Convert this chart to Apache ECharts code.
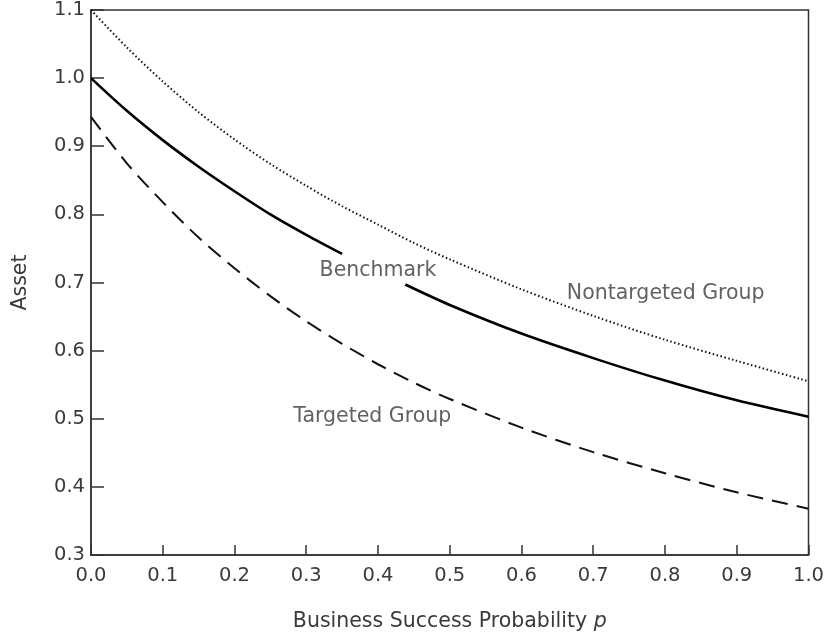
<!DOCTYPE html>
<html>
<head>
<meta charset="utf-8">
<script src="https://cdn.jsdelivr.net/npm/echarts@6/dist/echarts.min.js"></script>
<style>
html,body{margin:0;padding:0;background:#fff;}
#main{width:827px;height:637px;}
</style>
</head>
<body>
<div id="main"></div>
<script>
// Business success probability p (x values)
var pBench = [0, 0.05, 0.1, 0.15, 0.2, 0.25, 0.3, 0.35, 0.39, 0.438, 0.5, 0.6, 0.7, 0.8, 0.9, 1.0];
var benchmark = [1.0, 0.952, 0.909, 0.870, 0.834, 0.800, 0.770, 0.742, '-', 0.697, 0.667, 0.625, 0.589, 0.556, 0.527, 0.503];

var pGroups = [0, 0.05, 0.1, 0.15, 0.2, 0.25, 0.3, 0.35, 0.4, 0.45, 0.5, 0.6, 0.7, 0.8, 0.9, 1.0];
var nontargeted = [1.1, 1.045, 0.995, 0.950, 0.910, 0.874, 0.842, 0.812, 0.785, 0.758, 0.734, 0.690, 0.651, 0.616, 0.585, 0.555];
var targeted = [0.943, 0.875, 0.818, 0.766, 0.721, 0.680, 0.643, 0.610, 0.580, 0.553, 0.529, 0.487, 0.451, 0.420, 0.392, 0.368];

// curve annotations: [p, asset, text]
var annotations = [
  [0.40, 0.717, 'Benchmark'],
  [0.801, 0.684, 'Nontargeted Group'],
  [0.392, 0.503, 'Targeted Group']
];

var xTitle = 'Business Success Probability ';
var yTitle = 'Asset';

function pairs(xs, ys) { return xs.map(function (x, i) { return [x, ys[i]]; }); }

var FONT = 'DejaVu Sans';
var TXT = '#3a3a3a';
var chart = echarts.init(document.getElementById('main'), null, {renderer: 'canvas'});
chart.setOption({
  animation: false,
  backgroundColor: '#fff',
  grid: {left: 91, right: 16, top: 8, bottom: 73, show: true, borderColor: '#333', borderWidth: 1.5},
  xAxis: {
    type: 'value', min: 0, max: 1, interval: 0.1,
    name: '{n|' + xTitle + '}{i|p}', nameLocation: 'middle', nameGap: 56,
    nameTextStyle: {rich: {
      n: {fontFamily: FONT, fontSize: 20.5, color: TXT},
      i: {fontFamily: FONT, fontSize: 20.5, color: TXT, fontStyle: 'italic'}
    }},
    axisLine: {show: true, lineStyle: {color: '#333', width: 1.5}},
    axisTick: {show: true, inside: true, length: 10, lineStyle: {color: '#333', width: 1.5}},
    axisLabel: {fontFamily: FONT, fontSize: 19.5, color: TXT, margin: 11,
      formatter: function (v) { return v.toFixed(1); }},
    splitLine: {show: false}
  },
  yAxis: {
    type: 'value', min: 0.3, max: 1.1, interval: 0.1,
    name: yTitle, nameLocation: 'middle', nameGap: 60, nameRotate: 90,
    nameTextStyle: {fontFamily: FONT, fontSize: 20.5, color: TXT},
    axisLine: {show: true, lineStyle: {color: '#333', width: 1.5}},
    axisTick: {show: true, inside: true, length: 13, lineStyle: {color: '#333', width: 1.5}},
    axisLabel: {fontFamily: FONT, fontSize: 19.5, color: TXT, margin: 6,
      formatter: function (v) { return v.toFixed(1); }},
    splitLine: {show: false}
  },
  series: [
    {
      name: 'Nontargeted Group', type: 'line', data: pairs(pGroups, nontargeted),
      smooth: 0.3, showSymbol: false, symbol: 'none',
      lineStyle: {color: '#111', width: 2, type: [1.5, 2.5]}
    },
    {
      name: 'Benchmark', type: 'line', data: pairs(pBench, benchmark),
      smooth: 0.3, showSymbol: false, symbol: 'none', connectNulls: false,
      lineStyle: {color: '#000', width: 2.6, type: 'solid'}
    },
    {
      name: 'Targeted Group', type: 'line', data: pairs(pGroups, targeted),
      smooth: 0.3, showSymbol: false, symbol: 'none',
      lineStyle: {color: '#111', width: 2, type: [16, 9]}
    },
    {
      type: 'scatter', symbolSize: 0, silent: true,
      data: annotations.map(function (a) { return {value: [a[0], a[1]], name: a[2]}; }),
      label: {show: true, position: 'inside', formatter: '{b}',
        fontFamily: FONT, fontSize: 20.5, color: TXT}
    }
  ]
});
</script>
</body>
</html>
